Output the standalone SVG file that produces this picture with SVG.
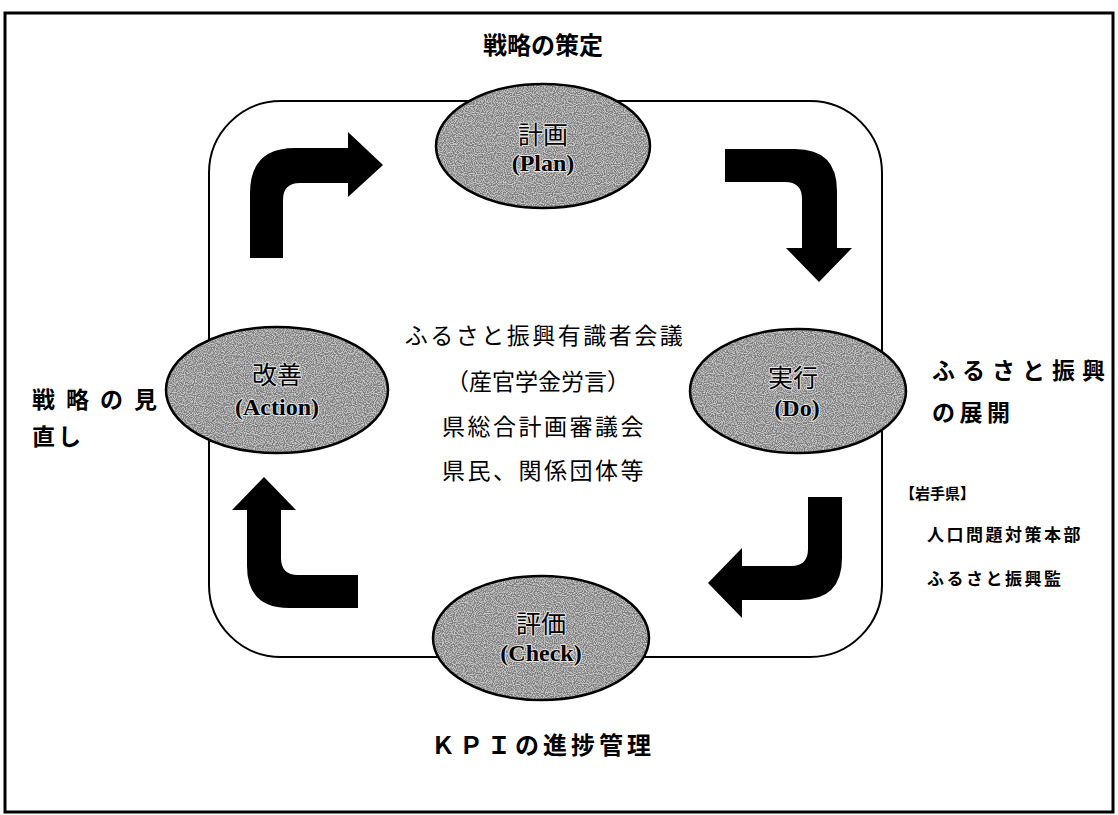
<svg xmlns="http://www.w3.org/2000/svg" width="1118" height="815" viewBox="0 0 1118 815">
<style>
.jp{font-family:"Noto Sans CJK JP","Liberation Sans",sans-serif;fill:#000}
.b{font-weight:700}
.en{font-family:"Liberation Serif","Noto Sans CJK JP",serif;font-weight:700;font-size:24px;fill:#000}
.node{fill:#c8c8c8;stroke:none}
.edge{fill:none;stroke:#000;stroke-width:2.5}
.arrow{fill:#000;stroke:none}
.lbl{paint-order:stroke;stroke:#e6e6e6;stroke-width:2px;stroke-linejoin:round}
</style>
<defs>
<filter id="grain" x="0" y="0" width="1" height="1">
<feTurbulence type="fractalNoise" baseFrequency="0.9" numOctaves="1" seed="7" result="n"/>
<feColorMatrix in="n" type="matrix" values="0 0 0 0 0.2  0 0 0 0 0.2  0 0 0 0 0.2  4 0 0 0 -1.45" result="d"/>
<feComposite in="d" in2="SourceGraphic" operator="in"/>
</filter>
</defs>
<rect width="1118" height="815" fill="#fff"/>
<rect x="5" y="13" width="1108" height="799" fill="none" stroke="#000" stroke-width="3"/>
<rect id="cycle" x="209" y="101" width="673" height="556" rx="72" ry="72" fill="none" stroke="#000" stroke-width="2"/>

<g id="connectors">
<path class="arrow" d="M250,258 V193 Q250,148 295,148 H348 V132 L383,165 L348,197 V183 H300 Q283,183 283,200 V258 Z"/>
<path class="arrow" d="M725,149 H795 Q837,149 837,191 V248 H852 L819,282 L786,248 H802 V199 Q802,182 785,182 H725 Z"/>
<path class="arrow" d="M842,497 V558 Q842,600 800,600 H742 V618 L708,583 L742,548 V566 H791 Q808,566 808,549 V497 Z"/>
<path class="arrow" d="M358,608 H289 Q247,608 247,566 V510 H232 L264,477 L296,510 H281 V558 Q281,575 298,575 H358 Z"/>
</g>

<g id="node-plan">
<ellipse class="node" cx="543" cy="146" rx="107" ry="62"/>
<ellipse cx="543" cy="146" rx="107" ry="62" filter="url(#grain)"/>
<ellipse class="edge" cx="543" cy="146" rx="107" ry="62"/>
<text class="jp lbl" x="543" y="144" font-size="25" text-anchor="middle">計画</text>
<text class="en lbl" x="543" y="171" text-anchor="middle">(Plan)</text>
</g>

<g id="node-do">
<ellipse class="node" cx="798" cy="391" rx="108" ry="62"/>
<ellipse cx="798" cy="391" rx="108" ry="62" filter="url(#grain)"/>
<ellipse class="edge" cx="798" cy="391" rx="108" ry="62"/>
<text class="jp lbl" x="793" y="387" font-size="25" text-anchor="middle">実行</text>
<text class="en lbl" x="797" y="416" text-anchor="middle">(Do)</text>
</g>

<g id="node-check">
<ellipse class="node" cx="541" cy="638" rx="108" ry="62"/>
<ellipse cx="541" cy="638" rx="108" ry="62" filter="url(#grain)"/>
<ellipse class="edge" cx="541" cy="638" rx="108" ry="62"/>
<text class="jp lbl" x="541" y="633" font-size="25" text-anchor="middle">評価</text>
<text class="en lbl" x="541" y="661" text-anchor="middle">(Check)</text>
</g>

<g id="node-action">
<ellipse class="node" cx="277" cy="390" rx="111" ry="63"/>
<ellipse cx="277" cy="390" rx="111" ry="63" filter="url(#grain)"/>
<ellipse class="edge" cx="277" cy="390" rx="111" ry="63"/>
<text class="jp lbl" x="277" y="384" font-size="25" text-anchor="middle">改善</text>
<text class="en lbl" x="277" y="415" font-size="25" text-anchor="middle">(Action)</text>
</g>

<g id="labels">
<text class="jp b" x="543" y="54" font-size="24" text-anchor="middle">戦略の策定</text>
<text class="jp b" x="32" y="408" font-size="23" letter-spacing="11">戦略の見</text>
<text class="jp b" x="32" y="445" font-size="23" letter-spacing="3">直し</text>
<text class="jp b" x="932" y="379" font-size="23" letter-spacing="7">ふるさと振興</text>
<text class="jp b" x="932" y="421" font-size="23" letter-spacing="4.5">の展開</text>
<text class="jp b" x="900" y="499" font-size="15">【岩手県】</text>
<text class="jp b" x="927" y="541" font-size="17" letter-spacing="2.5">人口問題対策本部</text>
<text class="jp b" x="927" y="585" font-size="17" letter-spacing="2.5">ふるさと振興監</text>
<text class="jp b" x="543" y="754" font-size="24" letter-spacing="4" text-anchor="middle">ＫＰＩの進捗管理</text>
</g>

<g id="center-text">
<text class="jp" x="545" y="344" font-size="23" letter-spacing="2.5" text-anchor="middle">ふるさと振興有識者会議</text>
<text class="jp" x="538" y="390" font-size="23" text-anchor="middle">（産官学金労言）</text>
<text class="jp" x="544" y="435" font-size="23" letter-spacing="2.5" text-anchor="middle">県総合計画審議会</text>
<text class="jp" x="544" y="479" font-size="23" letter-spacing="2.5" text-anchor="middle">県民、関係団体等</text>
</g>
</svg>
